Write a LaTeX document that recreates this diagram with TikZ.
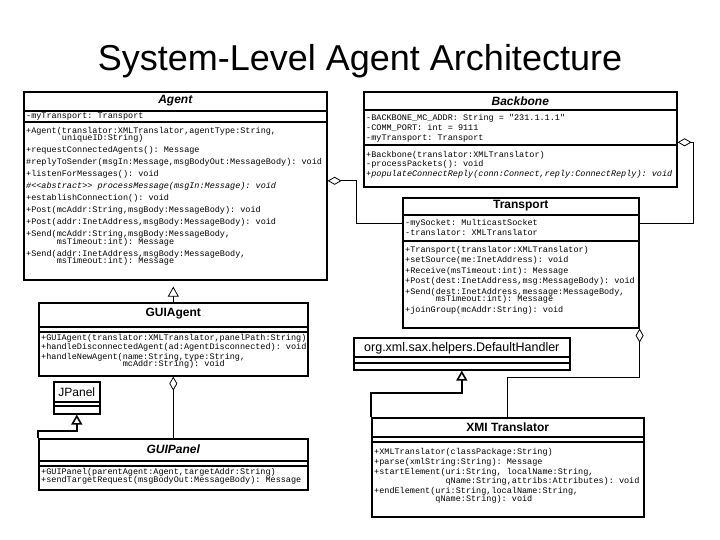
\documentclass[tikz,border=0pt]{standalone}
\usepackage{fontspec}
\setmainfont{Liberation Sans}
\setmonofont{Liberation Mono}
\usetikzlibrary{arrows.meta}

\newcommand{\umlfont}{\fontsize{8.5}{7.5}\selectfont\ttfamily\lineskiplimit=-10pt\lineskip=0pt\relax}

\tikzset{
  cls/.style={draw, line width=1.6pt, anchor=north west, inner sep=0pt},
  hdr/.style={font=\fontsize{12}{14}\selectfont\bfseries},
  lib/.style={font=\fontsize{12.5}{14}\selectfont},
  ops/.style={font=\umlfont, align=left, anchor=north west, inner sep=0pt},
  att/.style={font=\umlfont, anchor=west, inner sep=0pt},
  sep/.style={line width=1.2pt},
  agg/.style={{Diamond[open,length=14pt,width=8pt]}-, line width=0.8pt},
  gen/.style={-{Triangle[open,length=10pt,width=11pt]}, line width=0.8pt},
}

\begin{document}
\begin{tikzpicture}[x=1pt, y=-1pt]
\useasboundingbox (0,0) rectangle (720,540);
\node[font=\fontsize{36}{40}\selectfont, anchor=base] (title) at (360,71) {System-Level Agent Architecture};
% Agent
\node[cls, minimum width=303pt, minimum height=188pt] (agent) at (23,91) {};
\node[hdr] (agenthdr) at (agent.north |- 0,101) {\itshape Agent};
\draw[sep] (agent.west |- 0,111) -- (agent.east |- 0,111);
\node[att] (agentatt) at (26,117) {-myTransport: Transport};
\draw[sep] (agent.west |- 0,122) -- (agent.east |- 0,122);
\node[ops] (agentops) at (26,127) {+Agent(translator:XMLTranslator,agentType:String,\\
  \phantom{+Agent(}uniqueID:String)\\[4.5pt]
  +requestConnectedAgents(): Message\\[4.5pt]
  \#replyToSender(msgIn:Message,msgBodyOut:MessageBody): void\\[4.5pt]
  +listenForMessages(): void\\[4.5pt]
  {\itshape\#<<abstract>> processMessage(msgIn:Message): void}\\[4.5pt]
  +establishConnection(): void\\[4.5pt]
  +Post(mcAddr:String,msgBody:MessageBody): void\\[4.5pt]
  +Post(addr:InetAddress,msgBody:MessageBody): void\\[4.5pt]
  +Send(mcAddr:String,msgBody:MessageBody,\\
  \phantom{+Send(}msTimeout:int): Message\\[4.5pt]
  +Send(addr:InetAddress,msgBody:MessageBody,\\
  \phantom{+Send(}msTimeout:int): Message};
% Backbone
\node[cls, minimum width=313pt, minimum height=95pt] (bb) at (363,91) {};
\node[hdr] (bbhdr) at (bb.north |- 0,101) {\itshape Backbone};
\draw[sep] (bb.west |- 0,110) -- (bb.east |- 0,110);
\node[ops] (bbatt) at (366,114) {-BACKBONE\_MC\_ADDR: String = "231.1.1.1"\\[2.5pt]
  -COMM\_PORT: int = 9111\\[2.5pt]
  -myTransport: Transport};
\draw[sep] (bb.west |- 0,145) -- (bb.east |- 0,145);
\node[ops] (bbops) at (366,151) {+Backbone(translator:XMLTranslator)\\[2pt]
  -processPackets(): void\\[2pt]
  {\itshape +populateConnectReply(conn:Connect,reply:ConnectReply): void}};
% Transport
\node[cls, minimum width=236pt, minimum height=130pt] (tr) at (402,197) {};
\node[hdr] (trhdr) at (tr.north |- 0,206) {Transport};
\draw[sep] (tr.west |- 0,215) -- (tr.east |- 0,215);
\node[ops] (tratt) at (405,219) {-mySocket: MulticastSocket\\[2.5pt]
  -translator: XMLTranslator};
\draw[sep] (tr.west |- 0,241) -- (tr.east |- 0,241);
\node[ops] (trops) at (405,246) {+Transport(translator:XMLTranslator)\\[3pt]
  +setSource(me:InetAddress): void\\[3pt]
  +Receive(msTimeout:int): Message\\[3pt]
  +Post(dest:InetAddress,msg:MessageBody): void\\[3pt]
  +Send(dest:InetAddress,message:MessageBody,\\
  \phantom{+Send(}msTimeout:int): Message\\[3pt]
  +joinGroup(mcAddr:String): void};
% GUIAgent
\node[cls, minimum width=269pt, minimum height=73pt] (gagent) at (38,302) {};
\node[hdr] (gagenthdr) at (gagent.north |- 0,314) {GUIAgent};
\draw[sep] (gagent.west |- 0,327) -- (gagent.east |- 0,327);
\draw[sep] (gagent.west |- 0,332) -- (gagent.east |- 0,332);
\node[ops] (gagentops) at (41,334) {+GUIAgent(translator:XMLTranslator,panelPath:String)\\[2pt]
  +handleDisconnectedAgent(ad:AgentDisconnected): void\\[2pt]
  +handleNewAgent(name:String,type:String,\\
  \phantom{+handleNewAgent(}mcAddr:String): void};
% JPanel
\node[cls, minimum width=46pt, minimum height=32pt] (jpanel) at (53,381) {};
\node[lib, font=\fontsize{12}{14}\selectfont] (jpanelhdr) at (jpanel.north |- 0,392) {JPanel};
\draw[sep] (jpanel.west |- 0,402) -- (jpanel.east |- 0,402);
\draw[sep] (jpanel.west |- 0,406) -- (jpanel.east |- 0,406);
% GUIPanel
\node[cls, minimum width=269pt, minimum height=51pt] (gpanel) at (38,438) {};
\node[hdr] (gpanelhdr) at (gpanel.north |- 0,449) {\itshape GUIPanel};
\draw[sep] (gpanel.west |- 0,461) -- (gpanel.east |- 0,461);
\draw[sep] (gpanel.west |- 0,466) -- (gpanel.east |- 0,466);
\node[ops] (gpanelops) at (41,468) {+GUIPanel(parentAgent:Agent,targetAddr:String)\\[1pt]
  +sendTargetRequest(msgBodyOut:MessageBody): Message};
% DefaultHandler
\node[cls, minimum width=216pt, minimum height=32pt] (dh) at (353,337) {};
\node[lib] (dhhdr) at (dh.north |- 0,348) {org.xml.sax.helpers.DefaultHandler};
\draw[sep] (dh.west |- 0,357) -- (dh.east |- 0,357);
\draw[sep] (dh.west |- 0,363) -- (dh.east |- 0,363);
% XML translator
\node[cls, minimum width=272pt, minimum height=99pt] (xml) at (371,417) {};
\node[hdr] (xmlhdr) at (xml.north |- 0,427) {XMI Translator};
\draw[sep] (xml.west |- 0,437) -- (xml.east |- 0,437);
\draw[sep] (xml.west |- 0,442) -- (xml.east |- 0,442);
\node[ops] (xmlops) at (374,448) {+XMLTranslator(classPackage:String)\\[2.5pt]
  +parse(xmlString:String): Message\\[2.5pt]
  +startElement(uri:String, localName:String,\\[1.5pt]
  \phantom{+startElement(}qName:String,attribs:Attributes): void\\[3pt]
  +endElement(uri:String,localName:String,\\[0.5pt]
  \phantom{+endElement(}qName:String): void};
% connectors
\draw[gen, shorten >=6pt] (gagent.north) -- (gagent.north |- agent.south);
\draw[agg] (gagent.south) -- (gagent.south |- gpanel.north);
\draw[gen, line width=1.6pt] (gpanel.north west) -- ++(0,-7) -| (jpanel.south);
\draw[gen, line width=1.6pt] (xml.north west) -- ++(0,-24) -| (dh.south);
\draw[agg] (tr.south east) -- ++(0,49) -| (xml.north);
\draw[agg] ([yshift=5pt]agent.east) -- ++(29,0) |- ([yshift=-26pt]tr.north west);
\draw[agg] ([yshift=-3pt]bb.east) -- ++(16,0) |- ([yshift=-26pt]tr.north east);
\end{tikzpicture}
\end{document}
